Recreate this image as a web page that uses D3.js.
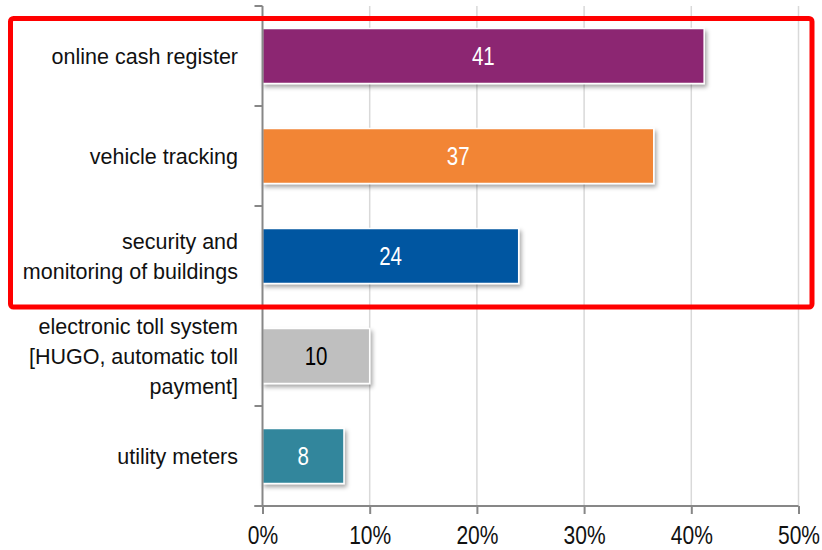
<!DOCTYPE html>
<html>
<head>
<meta charset="utf-8">
<script src="https://cdn.jsdelivr.net/npm/d3@7"></script>
<style>
  html, body { margin: 0; padding: 0; background: #fff; }
  svg { display: block; }
  text { font-family: "Liberation Sans", Arial, sans-serif; }
</style>
</head>
<body>
<svg id="chart" width="822" height="550"></svg>
<script>
const categories = [
  ["online cash register"],
  ["vehicle tracking"],
  ["security and", "monitoring of buildings"],
  ["electronic toll system", "[HUGO, automatic toll", "payment]"],
  ["utility meters"]
];
const values = [41.2, 36.5, 23.9, 10.0, 7.6];
const valueLabels = ["41", "37", "24", "10", "8"];
const colors = ["#8C2672", "#F28535", "#0056A1", "#BFBFBF", "#31869C"];
const labelColors = ["#ffffff", "#ffffff", "#ffffff", "#000000", "#ffffff"];
const xTicks = [0, 10, 20, 30, 40, 50];

const svg = d3.select("#chart");
const keys = categories.map((c, i) => "c" + i);

const x = d3.scaleLinear().domain([0, 50]).range([262.5, 798.5]);
const y = d3.scaleBand().domain(keys).range([6, 506]).padding(0);

const defs = svg.append("defs");
const f = defs.append("filter").attr("id", "shadow")
  .attr("x", "-10%").attr("y", "-20%").attr("width", "130%").attr("height", "160%");
f.append("feDropShadow").attr("dx", 2).attr("dy", 3).attr("stdDeviation", 2)
  .attr("flood-color", "#000").attr("flood-opacity", 0.35);

// gridlines
svg.append("g").selectAll("line").data(xTicks.filter(d => d > 0)).join("line")
  .attr("x1", d => x(d)).attr("x2", d => x(d))
  .attr("y1", 6).attr("y2", 506)
  .attr("stroke", "#d9d9d9").attr("stroke-width", 1.5);

// bars
const barH = y.bandwidth() * 0.55;
svg.append("g").selectAll("rect").data(values).join("rect")
  .attr("x", x(0))
  .attr("y", (d, i) => y(keys[i]) + (y.bandwidth() - barH) / 2)
  .attr("width", d => x(d) - x(0))
  .attr("height", barH)
  .attr("fill", (d, i) => colors[i])
  .attr("stroke", "#fff").attr("stroke-width", 1.5)
  .attr("filter", "url(#shadow)");

// value labels
svg.append("g").selectAll("text").data(values).join("text")
  .attr("transform", (d, i) => `translate(${(x(0) + x(d)) / 2},${y(keys[i]) + y.bandwidth() / 2}) scale(1,1.25)`)
  .attr("text-anchor", "middle").attr("dominant-baseline", "central")
  .attr("font-size", 20.5)
  .attr("fill", (d, i) => labelColors[i])
  .text((d, i) => valueLabels[i]);

// y axis
const yg = svg.append("g");
yg.append("line").attr("x1", x(0)).attr("x2", x(0)).attr("y1", 6).attr("y2", 506)
  .attr("stroke", "#878787").attr("stroke-width", 2);
const yBounds = keys.map(k => y(k)).concat([506]);
yg.selectAll("line.t").data(yBounds).join("line").attr("class", "t")
  .attr("x1", x(0) - 8).attr("x2", x(0)).attr("y1", d => d).attr("y2", d => d)
  .attr("stroke", "#878787").attr("stroke-width", 2);

// category labels
const lab = svg.append("g");
categories.forEach((lines, i) => {
  const cy = y(keys[i]) + y.bandwidth() / 2;
  const lh = 30;
  const t = lab.append("text").attr("text-anchor", "end").attr("font-size", 21.5).attr("fill", "#111");
  lines.forEach((ln, j) => {
    t.append("tspan").attr("x", 238)
      .attr("y", cy + (j - (lines.length - 1) / 2) * lh)
      .attr("dy", "0.35em").text(ln);
  });
});

// x axis
const xAxis = d3.axisBottom(x).tickValues(xTicks).tickFormat(d => d + "%").tickSize(8).tickSizeOuter(0).tickPadding(6);
const xg = svg.append("g").attr("transform", "translate(0,506)").call(xAxis);
xg.select(".domain").remove();
xg.append("line").attr("x1", x(0) - 8).attr("x2", x(50)).attr("y1", 0).attr("y2", 0)
  .attr("stroke", "#878787").attr("stroke-width", 2);
xg.selectAll(".tick line").attr("stroke", "#878787").attr("stroke-width", 2);
xg.selectAll(".tick text")
  .attr("font-size", 21).attr("fill", "#111")
  .attr("font-family", "'Liberation Sans', Arial, sans-serif")
  .attr("y", 0).attr("dy", 0)
  .attr("transform", "translate(0,29) scale(1,1.25)")
  .attr("dominant-baseline", "central");

// red highlight rectangle
svg.append("rect").attr("x", 10.5).attr("y", 18.5).attr("width", 801.5).attr("height", 288.5)
  .attr("rx", 3).attr("fill", "none").attr("stroke", "#FF0000").attr("stroke-width", 5);
</script>
</body>
</html>
